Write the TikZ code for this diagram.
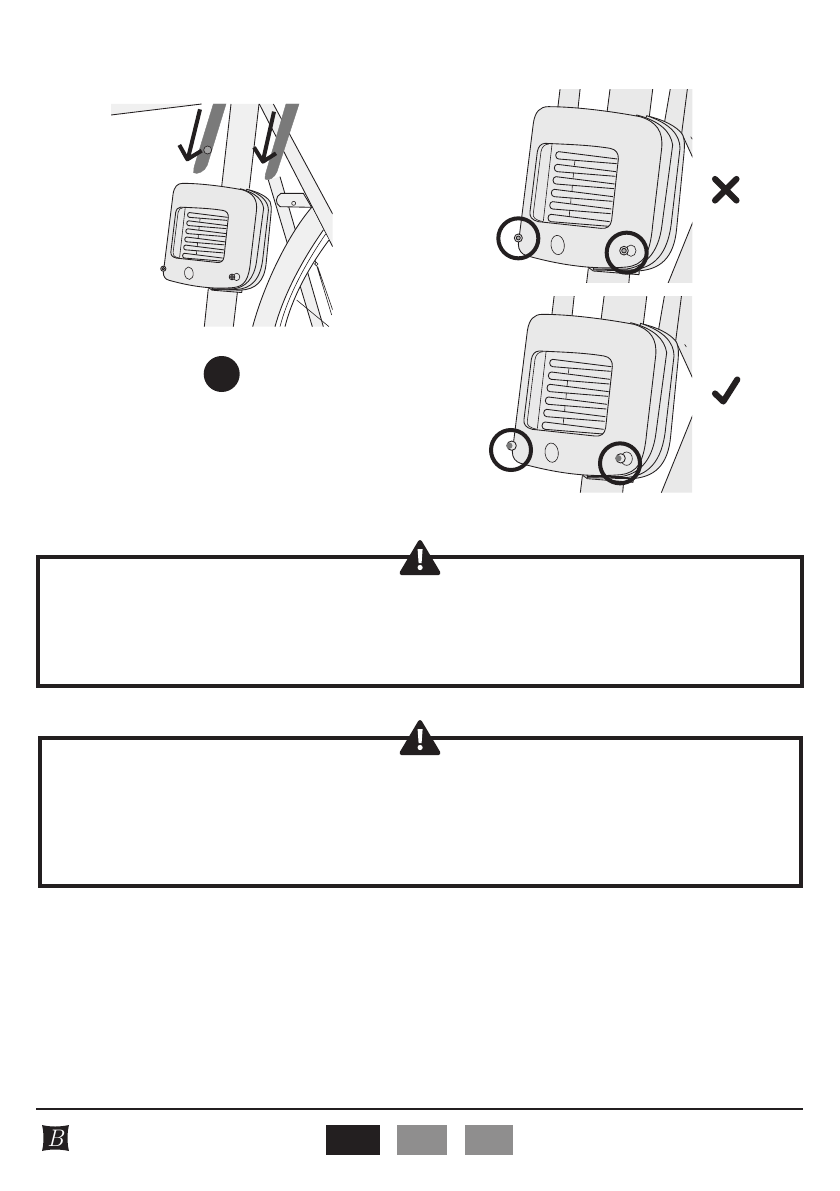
\documentclass[tikz,border=0pt]{standalone}
\definecolor{ink}{HTML}{231F20}
\definecolor{pale}{HTML}{E9E9E9}
\definecolor{palerr}{HTML}{F0F0F0}
\definecolor{steel}{HTML}{7A7A7A}
\definecolor{tab}{HTML}{8F8E8E}
\tikzset{
  outl/.style={draw=ink,line width=.65pt,line join=round},
  thin outl/.style={draw=ink,line width=.45pt},
  warnbox/.style={draw=ink,line width=3pt,fill=white},
  ring/.style={draw=ink,line width=3pt},
  heavy/.style={draw=ink,line width=4.6pt,line cap=round,line join=round},
}
% housing drawn in its own coordinates
\newcommand{\housing}{%
  \path[outl,fill=pale] (322,545) -- (478,555) -- (477,569) -- (340,558) -- cycle;
  \path[outl,fill=pale] (510,95) .. controls (570,110) and (600,135) .. (608,150) .. controls (614,165) and (614,180) .. (612,205) -- (590,430) .. controls (582,520) and (540,555) .. (470,558) -- (340,555) -- cycle;
  \path[outl,fill=pale] (500,92) .. controls (570,115) and (600,150) .. (600,190) -- (575,405) .. controls (565,510) and (520,552) .. (450,555) -- (340,552) -- cycle;
  \path[outl,fill=pale] (470,90) .. controls (540,108) and (572,140) .. (578,180) -- (546,420) .. controls (535,510) and (490,545) .. (440,552) -- (340,552) -- cycle;
  \path[outl,fill=pale] (205,65) .. controls (290,65) and (400,80) .. (480,95) .. controls (530,110) and (550,140) .. (545,190) -- (518,420) .. controls (510,510) and (490,540) .. (440,546) .. controls (340,555) and (240,540) .. (140,512) .. controls (125,508) and (115,495) .. (115,478) -- (160,115) .. controls (165,80) and (180,65) .. (205,65) -- cycle;
  \path[outl,fill=pale] (195,175) .. controls (260,178) and (330,180) .. (390,190) .. controls (408,193) and (416,205) .. (415,222) -- (395,405) .. controls (392,425) and (380,432) .. (362,430) -- (175,410) .. controls (155,405) and (148,395) .. (150,380) -- (172,200) .. controls (175,185) and (182,176) .. (195,175) -- cycle;
  \draw[thin outl] (207,177) .. controls (192,178) and (186,186) .. (183,200) -- (160,385) .. controls (158,398) and (165,405) .. (190,410);
  \draw[thin outl] (216,178) -- (190,408);
  \foreach \a/\b in {226/200,222/238,218/275,213/313,208/350,203/388}{
    \draw[outl] (\a+186,\b+22) -- (\a+10,\b) arc[start angle=90,end angle=270,x radius=9,y radius=-11] -- (\a+184,\b+36);
  }
  \foreach \a/\b/\c/\d in {285/226/283/242,281/262/279/281,277/300/276/318,273/338/272/356,269/375/268/393}{
    \draw[thin outl] (\a,\b) -- (\c,\d);
  }
  \draw[thin outl,rotate around={6:(233,480)}] (233,480) ellipse[x radius=20,y radius=29];
}
\newcommand{\boltsbare}{%
  \draw[thin outl,fill=pale] (453,497) ellipse[x radius=15,y radius=17];
  \draw[outl,fill=pale] (115,459) circle[radius=12];
  \draw[outl,fill=steel!60] (115,459) circle[radius=6];
  \draw[outl,fill=pale] (432,497) circle[radius=13];
  \draw[outl,fill=steel!60] (432,497) circle[radius=7];
}
\newcommand{\boltsout}{%
  \draw[thin outl,fill=pale] (458,498) ellipse[x radius=17,y radius=20];
  \draw[outl,fill=pale] (113,459) circle[radius=14];
  \draw[draw=none,fill=steel] (106,459) circle[radius=9.5];
  \draw[outl,fill=pale] (440,497) circle[radius=14];
  \draw[draw=none,fill=steel] (433,497) circle[radius=9.5];
}
% the frame behind the housing in the right-hand panels
\newcommand{\rearframe}{%
  \fill[pale] (241,5) -- (301,5) -- (293,80) -- (232,80) -- cycle;
  \fill[pale] (391,5) -- (519,5) -- (506,110) -- (380,90) -- cycle;
  \fill[pale] (572,5) -- (660,5) -- (660,265) -- (605,145) -- (553,115) -- cycle;
  \fill[pale] (660,358) -- (660,600) -- (562,600) -- cycle;
  \fill[pale] (325,550) -- (450,555) -- (446,600) -- (319,600) -- cycle;
  \draw[outl] (241,5) -- (232,80) (301,5) -- (293,80) (391,5) -- (380,90) (519,5) -- (506,110) (572,5) -- (553,115) (623,5) -- (605,145) -- (660,265);
  \draw[thin outl] (632,155) -- (637,163);
  \draw[outl] (660,358) -- (562,600) (325,550) -- (319,600) (450,555) -- (446,600);
}
\begin{document}
\begin{tikzpicture}[x=0.75pt,y=-0.75pt]
\useasboundingbox (0,0) rectangle (839,1191);
\fill[white] (0,0) rectangle (839,1191);

% left panel: zoomed coordinates
\begin{scope}[shift={(100,90)},x=.25pt,y=-.25pt]
  \clip (33,42) rectangle (698,710);
  \fill[palerr] (33,42) -- (305,42) -- (33,75) -- cycle;
  \fill[palerr] (393,42) -- (477,42) -- (448,300) -- (365,300) -- cycle;
  \fill[palerr] (325,590) -- (415,590) -- (400,710) -- (313,710) -- cycle;
  \fill[palerr] (478,42) -- (520,42) -- (698,372) -- (698,470) -- cycle;
  \fill[palerr] (505,270) -- (540,260) -- (670,710) -- (637,710) -- cycle;
  \draw[outl] (33,75) -- (305,42);
  \draw[outl] (393,42) -- (365,290) (477,42) -- (448,295);
  \draw[outl] (325,595) -- (313,710) (413,600) -- (400,710);
  \draw[outl] (520,42) -- (698,372) (478,42) -- (698,470);
  \draw[outl] (505,270) -- (637,710) (540,260) -- (670,710);
  \draw[outl,fill=palerr] (543,310) -- (610,310) -- (635,352) -- (540,350) .. controls (525,340) and (525,320) .. (543,310) -- cycle;
  \draw[thin outl] (581,340) circle[radius=6];
  \draw[thin outl] (645,510) -- (695,675) (653,530) -- (698,660);
  \draw[thin outl,fill=white] (649,522) circle[radius=5];
  \draw[thin outl] (590,630) -- (687,710);
  \fill[palerr] (635,352) .. controls (560,440) and (490,590) .. (458,710) -- (525,710) .. controls (550,620) and (600,520) .. (670,420) -- cycle;
  \fill[white] (525,710) .. controls (550,620) and (600,520) .. (670,420) -- (687,450) .. controls (620,540) and (575,630) .. (555,710) -- cycle;
  \draw[outl] (635,352) .. controls (560,440) and (490,590) .. (458,710);
  \draw[outl] (670,420) .. controls (600,520) and (550,620) .. (525,710);
  \draw[thin outl] (677,432) .. controls (610,530) and (562,625) .. (540,710);
  \draw[outl] (687,450) .. controls (620,540) and (575,630) .. (555,710);
  \draw[line width=.3pt,fill=steel,draw=steel] (340,42) -- (378,42) -- (322,225) .. controls (315,245) and (290,255) .. (281,248) .. controls (280,240) and (282,232) .. (285,222) -- cycle;
  \draw[thin outl,fill=steel!70] (323,180) circle[radius=12];
  \draw[line width=.3pt,fill=steel,draw=steel] (558,42) -- (597,42) -- (531,245) .. controls (525,262) and (505,275) .. (495,267) .. controls (494,258) and (497,250) .. (500,240) -- cycle;
  \draw[heavy,line width=3pt,line cap=butt] (300,58) -- (264,205);
  \draw[heavy,line width=3pt,line cap=butt] (238,165) -- (262,208) -- (305,182);
  \draw[heavy,line width=3pt,line cap=butt] (522,65) -- (489,212);
  \draw[heavy,line width=3pt,line cap=butt] (462,172) -- (489,215) -- (528,190);
\end{scope}
\begin{scope}[shift={(138.4,169.25)},x=.1625pt,y=-.1625pt]
  \housing
  \boltsbare
\end{scope}
\fill[ink] (221.7,374) circle[radius=18];

% upper right panel
\begin{scope}[shift={(480,85)},x=.25pt,y=-.25pt]
  \clip (0,15) rectangle (637,592);
  \rearframe
  \housing
  \boltsbare
  \draw[ring] (115,460) circle[radius=60];
  \draw[ring] (440,503) circle[radius=60];
\end{scope}

% lower right panel
\begin{scope}[shift={(474,292.67)},x=.25pt,y=-.25pt]
  \clip (0,10) rectangle (654,600);
  \rearframe
  \housing
  \boltsout
  \draw[ring] (111,472) circle[radius=60];
  \draw[ring] (438,512) circle[radius=60];
\end{scope}

% cross and tick
\draw[heavy] (715,179) -- (736.5,200.5) (736.5,179) -- (715,200.5);
\draw[heavy] (715,393.5) -- (723.3,401.5) -- (737.3,379.5);

% warning boxes
\draw[warnbox] (38,557) rectangle (802,686);
\draw[warnbox] (40,738) rectangle (801,886);
\foreach \yy in {0,180}{
  \begin{scope}[yshift=-\yy*0.75pt]
    \draw[fill=ink,draw=ink,line width=3pt,line join=round] (420,542) -- (438.5,573) -- (401.5,573) -- cycle;
    \fill[white] (417.6,549) -- (422.6,549) -- (421.6,563) -- (418.6,563) -- cycle;
    \fill[white] (420.1,567.5) circle[radius=2.6];
  \end{scope}
}

% footer
\draw[ink,line width=.8pt] (36,1109) -- (803,1109);
\fill[ink] (42,1125) .. controls (50,1127) and (60,1127) .. (69,1125) .. controls (67,1133) and (67,1143) .. (69,1151) .. controls (60,1149) and (50,1149) .. (42,1151) .. controls (44,1143) and (44,1133) .. (42,1125) -- cycle;
\node[text=white,inner sep=0pt,font=\itshape\fontsize{18}{18}\selectfont] (logoB) at (55.5,1138) {B};
\fill[ink] (326,1125) rectangle (380,1155);
\fill[tab] (397,1125) rectangle (447,1155);
\fill[tab] (465,1125) rectangle (513,1155);
\end{tikzpicture}
\end{document}
